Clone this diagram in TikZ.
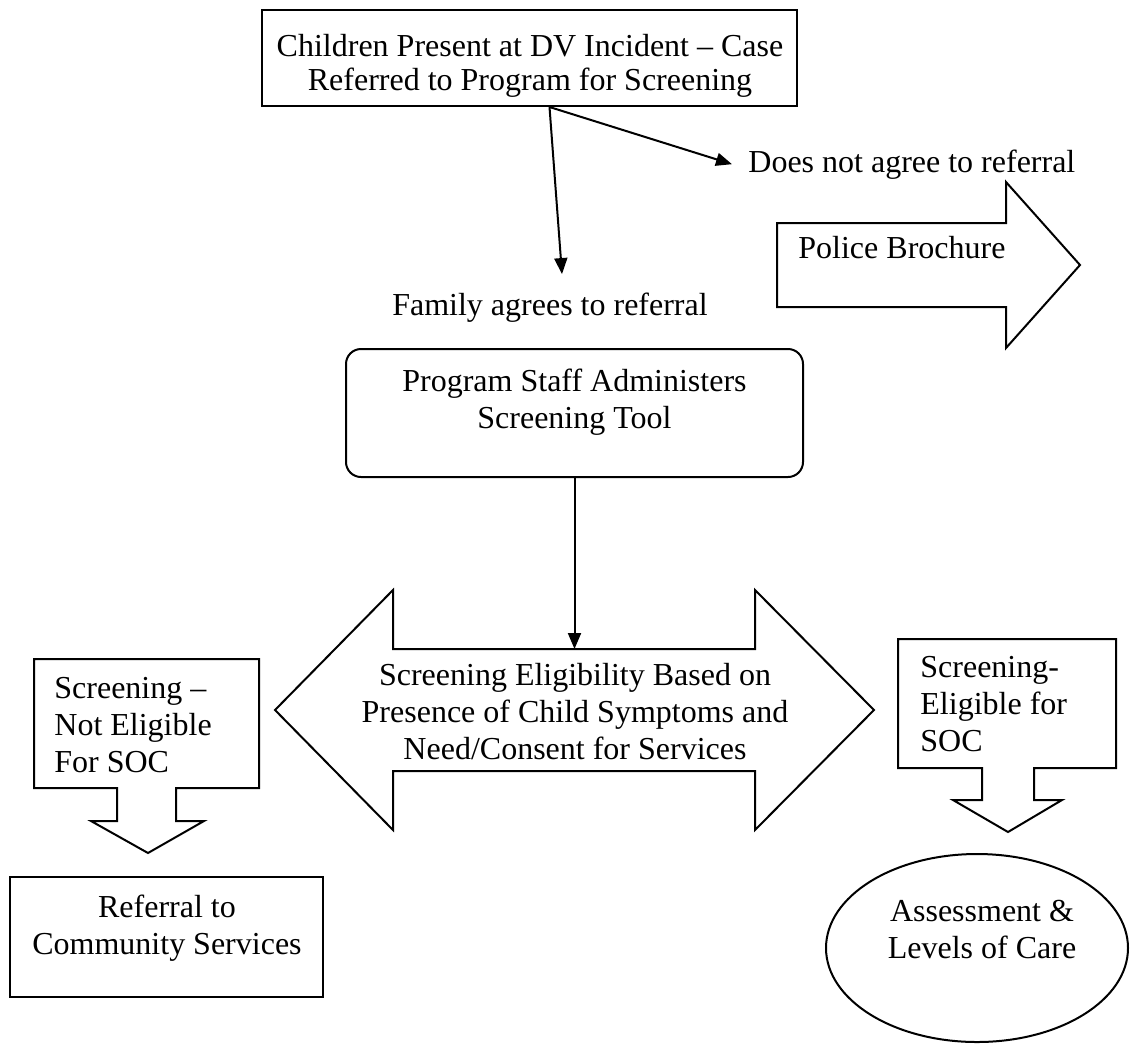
\documentclass[tikz,border=0pt]{standalone}
\usepackage{fontspec}
\setmainfont{Liberation Serif}
\usetikzlibrary{arrows.meta,positioning,shapes.geometric}

\tikzset{
  box/.style={draw, line width=1pt, inner sep=0pt},
  roundbox/.style={box, rounded corners=7.5pt},
  txt/.style={align=center, inner sep=0pt, font=\fontsize{16}{18.5}\selectfont},
  ltxt/.style={txt, align=left},
  conn/.style={line width=1pt, -{Triangle[length=8pt,width=6.5pt]}},
  blockarrow/.style={draw, line width=1pt, line join=miter},
}

\begin{document}
\begin{tikzpicture}[x=0.5pt,y=-0.5pt]
	\useasboundingbox (0,0) rectangle (1130,1046);
	
	% referral at the top
	\node[box, minimum width=267.5pt, minimum height=48pt] (incident) at (529.5,58) {};
	\node[txt, font=\fontsize{16}{17}\selectfont] (incidenttext) at (530,66) {Children Present at DV Incident – Case\\Referred to Program for Screening};
	\coordinate (split) at ([xshift=10pt]incident.south);
	
	\node[txt, anchor=base] (agree) at (550,315) {Family agrees to referral};
	\node[txt, anchor=base west] (declined) at (748,172) {Does not agree to referral};
	\coordinate (famtip) at ([shift={(6pt,9pt)}]agree.north);
	\draw[conn] (split) -- (famtip);
	\draw[conn] (split) -- ([xshift=-8pt]declined.west);
	
	% brochure arrow
	\draw[blockarrow] (777,223) -- (1006,223) -- (1006,182) -- (1080,265) -- (1006,348) -- (1006,307) -- (777,307) -- cycle;
	\node[txt, anchor=base west] (brochure) at (798,258) {Police Brochure};
	
	% screening
	\node[roundbox, minimum width=228.5pt, minimum height=64pt] (staff) at (574.5,413) {};
	\node[txt] (stafftext) at (574.5,402) {Program Staff Administers\\Screening Tool};
	
	% eligibility double arrow
	\draw[blockarrow] (275,710) -- (393,590) -- (393,649) -- (755,649) -- (755,590) -- (874,710)
		-- (755,830) -- (755,771) -- (393,771) -- (393,830) -- cycle;
	\coordinate (elig) at (575,649);
	\node[txt] (eligtext) at (575,712) {Screening Eligibility Based on\\Presence of Child Symptoms and\\Need/Consent for Services};
	\draw[conn] (staff.south) -- (staff.south |- elig);
	
	% not eligible
	\draw[blockarrow] (34,659) -- (259,659) -- (259,788) -- (176,788) -- (176,821) -- (204,821) -- (148,853)
		-- (91,821) -- (117,821) -- (117,788) -- (34,788) -- cycle;
	\node[ltxt, anchor=north west] (noteligible) at (54,677) {Screening –\\Not Eligible\\For SOC};
	\node[box, minimum width=156.5pt, minimum height=60pt] (community) at (166.5,937) {};
	\node[txt] (communitytext) at (167,928.5) {Referral to\\Community Services};
	
	% eligible
	\draw[blockarrow] (898,639) -- (1116,639) -- (1116,768) -- (1034,768) -- (1034,800) -- (1062,800) -- (1008,832)
		-- (953,800) -- (982,800) -- (982,768) -- (898,768) -- cycle;
	\node[ltxt, anchor=north west] (eligible) at (920,656) {Screening-\\Eligible for\\SOC};
	\node[draw, ellipse, line width=1pt, minimum width=151pt, minimum height=94pt] (care) at (977,948) {};
	\node[txt] (caretext) at (982,929) {Assessment \&\\Levels of Care};
\end{tikzpicture}
\end{document}
